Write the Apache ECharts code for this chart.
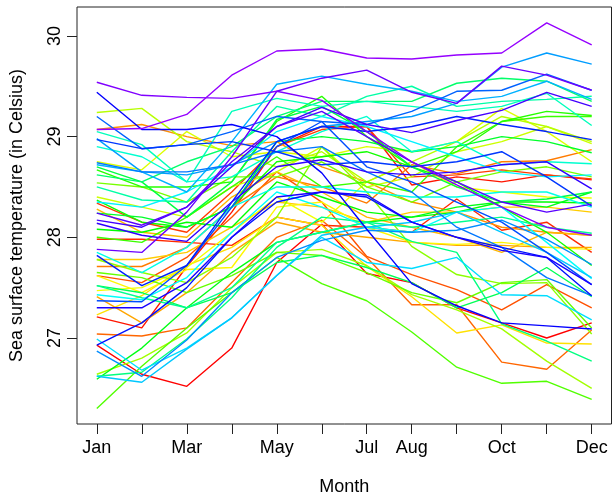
<!DOCTYPE html>
<html>
<head>
<meta charset="utf-8">
<script src="https://cdn.jsdelivr.net/npm/echarts@6/dist/echarts.min.js"></script>
<style>
  html, body { margin: 0; padding: 0; background: #fff; }
  #chart { width: 612px; height: 501px; }
</style>
</head>
<body>
<div id="chart"></div>
<script>
// month index on the x axis
const months = [1, 2, 3, 4, 5, 6, 7, 8, 9, 10, 11, 12]
const monthNames = ['Jan', 'Feb', 'Mar', 'Apr', 'May', 'Jun', 'Jul', 'Aug', 'Sep', 'Oct', 'Nov', 'Dec']
// R drops the labels that would overlap
const labelledMonths = [1, 3, 5, 7, 8, 10, 12]
const tempTicks = [27, 28, 29, 30]

// monthly sea surface temperature, one row per site, in colour order (red -> violet)
const sst = [
  [26.93, 26.64, 26.52, 26.90, 27.75, 28.13, 27.64, 27.55, 27.30, 27.15, 27.00, 27.15],
  [27.21, 27.10, 27.71, 28.25, 28.90, 29.10, 29.10, 28.52, 28.60, 28.55, 28.62, 28.57],
  [27.98, 27.98, 27.95, 27.92, 28.20, 28.12, 28.10, 28.05, 28.38, 28.07, 28.15, 27.85],
  [28.34, 28.15, 28.05, 28.45, 28.90, 29.07, 29.10, 28.60, 28.62, 28.67, 28.62, 28.58],
  [27.62, 27.55, 27.80, 28.20, 28.65, 28.35, 27.81, 27.63, 27.48, 27.28, 27.53, 27.30],
  [27.04, 27.02, 27.10, 27.55, 28.00, 28.17, 27.80, 27.33, 27.33, 26.76, 26.69, 27.08],
  [27.71, 27.71, 27.90, 28.30, 28.60, 28.50, 28.34, 28.72, 28.63, 28.75, 28.76, 28.87],
  [29.07, 29.12, 29.00, 28.91, 28.95, 28.70, 28.55, 28.35, 28.25, 28.10, 28.05, 28.02],
  [27.41, 27.15, 27.45, 27.85, 28.15, 28.05, 28.00, 27.95, 27.92, 27.92, 27.90, 27.90],
  [28.28, 28.05, 28.00, 28.40, 28.65, 28.45, 28.20, 28.10, 28.00, 27.85, 28.05, 28.02],
  [27.78, 27.78, 27.85, 28.10, 28.35, 28.30, 28.15, 28.25, 28.25, 28.30, 28.30, 28.25],
  [27.23, 27.42, 27.72, 27.90, 28.20, 28.12, 27.71, 27.41, 27.05, 27.13, 26.95, 26.94],
  [27.62, 27.45, 27.68, 27.70, 28.30, 28.35, 28.10, 27.95, 27.93, 27.95, 27.90, 27.88],
  [27.47, 27.50, 27.70, 28.05, 28.40, 28.15, 28.55, 28.75, 28.50, 28.45, 28.40, 28.39],
  [28.75, 28.67, 29.05, 28.80, 28.85, 28.80, 28.90, 28.85, 28.95, 29.28, 29.05, 28.75],
  [28.40, 28.30, 28.20, 28.50, 28.65, 28.90, 28.50, 28.60, 28.85, 28.95, 29.10, 28.93],
  [29.24, 29.28, 28.95, 28.85, 28.70, 28.85, 28.55, 28.75, 28.95, 29.20, 29.10, 28.95],
  [26.64, 26.80, 27.05, 27.50, 27.85, 27.88, 27.72, 27.43, 27.28, 27.09, 26.77, 26.50],
  [27.78, 27.65, 27.55, 27.80, 28.20, 28.90, 28.45, 27.91, 27.63, 27.54, 27.55, 27.04],
  [28.54, 28.50, 28.35, 28.60, 28.60, 28.75, 28.50, 28.35, 28.55, 28.65, 28.70, 28.60],
  [27.65, 27.60, 27.45, 27.62, 27.85, 27.82, 27.65, 27.45, 27.35, 27.55, 27.58, 27.10],
  [26.30, 26.72, 27.10, 27.45, 27.80, 27.54, 27.37, 27.06, 26.71, 26.55, 26.57, 26.39],
  [28.00, 27.95, 28.20, 28.50, 28.80, 28.50, 28.55, 28.45, 28.90, 29.15, 29.20, 29.20],
  [28.67, 28.50, 28.50, 28.55, 29.15, 29.40, 29.00, 28.70, 28.85, 29.15, 29.25, 29.21],
  [28.37, 28.15, 28.10, 28.30, 28.75, 28.80, 28.85, 28.70, 28.55, 28.30, 28.05, 27.72],
  [28.08, 28.05, 28.15, 28.10, 28.55, 28.40, 28.25, 28.20, 28.25, 28.35, 28.35, 28.34],
  [26.59, 26.90, 27.30, 27.65, 27.95, 28.05, 28.15, 28.20, 28.30, 28.35, 28.30, 28.45],
  [28.24, 28.20, 28.10, 28.30, 28.95, 29.00, 28.95, 28.85, 28.90, 29.00, 28.95, 28.84],
  [28.70, 28.55, 28.20, 28.55, 29.17, 29.30, 29.05, 28.70, 28.50, 28.35, 28.38, 28.45],
  [27.52, 27.45, 27.30, 27.45, 27.75, 27.82, 27.70, 27.55, 27.30, 27.45, 27.70, 27.41],
  [28.62, 28.55, 28.75, 28.90, 29.20, 29.35, 29.35, 29.35, 29.53, 29.58, 29.55, 29.35],
  [26.62, 26.66, 26.99, 27.40, 27.90, 28.20, 28.15, 27.96, 27.85, 27.14, 26.97, 26.77],
  [27.52, 27.40, 27.30, 27.50, 27.95, 28.05, 28.15, 28.10, 28.15, 28.20, 28.10, 28.04],
  [28.50, 28.37, 28.35, 28.85, 29.30, 29.20, 29.40, 29.50, 29.30, 29.35, 29.37, 29.40],
  [29.05, 28.92, 28.55, 29.25, 29.38, 29.30, 29.35, 29.30, 29.25, 29.30, 29.43, 29.11],
  [28.90, 28.80, 28.55, 28.60, 28.85, 29.05, 29.20, 28.85, 28.95, 28.72, 28.75, 28.73],
  [27.85, 27.65, 27.90, 28.30, 28.50, 28.50, 28.45, 28.40, 28.40, 28.45, 28.45, 28.30],
  [27.43, 27.38, 27.60, 28.05, 28.45, 28.30, 28.10, 28.05, 28.25, 28.30, 27.95, 27.59],
  [28.35, 28.30, 28.45, 28.70, 29.05, 29.20, 29.10, 28.95, 28.80, 28.65, 28.60, 28.62],
  [26.99, 26.68, 26.90, 27.20, 27.62, 28.00, 27.75, 27.69, 27.80, 27.43, 27.42, 27.18],
  [26.62, 26.56, 26.89, 27.20, 27.62, 28.02, 28.10, 28.15, 28.25, 28.05, 27.85, 27.60],
  [28.72, 28.65, 28.45, 28.95, 29.52, 29.60, 29.52, 29.45, 29.35, 29.40, 29.55, 29.37],
  [28.98, 28.65, 28.62, 28.72, 28.95, 29.10, 29.15, 29.20, 29.33, 29.69, 29.83, 29.72],
  [26.87, 26.62, 26.98, 27.45, 27.80, 27.97, 28.07, 28.05, 28.07, 28.17, 27.98, 27.73],
  [28.74, 28.65, 28.65, 28.72, 28.85, 28.90, 28.65, 28.45, 28.10, 27.90, 27.60, 27.42],
  [29.20, 28.88, 28.92, 29.05, 29.20, 29.15, 29.12, 29.25, 29.45, 29.46, 29.62, 29.46],
  [27.37, 27.36, 27.72, 28.30, 28.90, 29.15, 28.70, 28.55, 28.35, 28.15, 27.85, 27.53],
  [28.97, 28.88, 28.92, 28.95, 28.85, 28.72, 28.75, 28.70, 28.75, 28.85, 28.60, 28.31],
  [27.82, 27.52, 27.72, 28.35, 28.95, 29.10, 29.05, 29.10, 29.20, 29.12, 29.05, 28.97],
  [26.93, 27.15, 27.50, 28.00, 28.35, 28.45, 28.40, 28.15, 28.00, 27.90, 27.80, 27.42],
  [29.44, 29.07, 29.07, 29.12, 29.00, 28.64, 28.08, 27.54, 27.32, 27.15, 27.12, 27.09],
  [27.30, 27.30, 27.55, 28.00, 28.40, 28.45, 28.42, 28.15, 28.00, 27.87, 27.80, 27.53],
  [28.14, 28.02, 27.96, 28.35, 28.70, 28.77, 28.65, 28.62, 28.65, 28.72, 28.75, 28.48],
  [28.17, 28.10, 28.30, 28.70, 29.10, 29.29, 29.12, 29.04, 29.16, 29.26, 29.44, 29.30],
  [28.24, 28.12, 28.30, 28.75, 29.10, 29.25, 29.00, 28.75, 28.55, 28.35, 28.25, 28.33],
  [27.88, 27.85, 28.25, 28.80, 29.45, 29.58, 29.66, 29.44, 29.33, 29.70, 29.61, 29.46],
  [29.54, 29.41, 29.39, 29.38, 29.45, 29.36, 29.05, 28.75, 28.52, 28.30, 28.10, 28.02],
  [29.07, 29.08, 29.22, 29.61, 29.85, 29.87, 29.78, 29.77, 29.81, 29.83, 30.13, 29.91]
]

// like R's rainbow(): full saturation, hue running from red to violet
let rainbow = n => Array.from({ length: n }, (_, i) => `hsl(${Math.round(i / (n - 1) * 275)},100%,50%)`)

const font = '"Liberation Sans", Arial, Helvetica, sans-serif'
const colors = rainbow(sst.length)

const chart = echarts.init(document.getElementById('chart'), null, { renderer: 'canvas' })

const option = {
  animation: false,
  backgroundColor: '#fff',
  grid: {
    left: 76, top: 7, width: 535.5, height: 418,
    show: true, borderColor: '#222', borderWidth: 1
  },
  xAxis: {
    type: 'value',
    min: 0.56, max: 12.44,
    name: 'Month',
    nameLocation: 'middle',
    nameGap: 54,
    nameTextStyle: { fontFamily: font, fontSize: 18, color: '#000' },
    axisLine: { show: false },
    splitLine: { show: false },
    axisTick: { show: true, length: 10, customValues: months, lineStyle: { color: '#222', width: 1 } },
    axisLabel: {
      customValues: labelledMonths,
      formatter: v => monthNames[Math.round(v) - 1],
      fontFamily: font, fontSize: 18, color: '#000', margin: 15
    }
  },
  yAxis: {
    type: 'value',
    min: 26.146, max: 30.287,
    name: 'Sea surface temperature (in Celsius)',
    nameLocation: 'middle',
    nameRotate: 90,
    nameGap: 51,
    nameTextStyle: { fontFamily: font, fontSize: 18, color: '#000' },
    axisLine: { show: false },
    splitLine: { show: false },
    axisTick: { show: true, length: 10, customValues: tempTicks, lineStyle: { color: '#222', width: 1 } },
    axisLabel: {
      customValues: tempTicks,
      rotate: 90,
      formatter: v => String(v),
      fontFamily: font, fontSize: 18, color: '#000', margin: 13
    }
  },
  series: sst.map((row, i) => ({
    type: 'line',
    data: months.map((m, j) => [m, row[j]]),
    showSymbol: false,
    symbol: 'none',
    silent: true,
    lineStyle: { color: colors[i], width: 1.4 }
  }))
}

chart.setOption(option)
</script>
</body>
</html>
